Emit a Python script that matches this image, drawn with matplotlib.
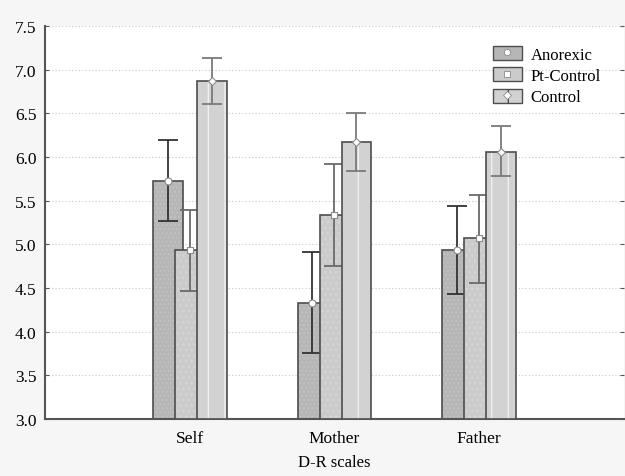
import matplotlib
matplotlib.use("Agg")
import matplotlib.pyplot as plt
import numpy as np
from matplotlib.patches import Patch
from matplotlib.lines import Line2D

categories = ["Self", "Mother", "Father"]
groups = ["Anorexic", "Pt-Control", "Control"]
anorexic = [5.73, 4.33, 4.93]
anorexic_lo = [5.27, 3.75, 4.43]
anorexic_hi = [6.19, 4.91, 5.44]
ptcontrol = [4.93, 5.33, 5.07]
ptcontrol_lo = [4.47, 4.75, 4.56]
ptcontrol_hi = [5.39, 5.92, 5.57]
control = [6.87, 6.17, 6.06]
control_lo = [6.61, 5.84, 5.78]
control_hi = [7.13, 6.50, 6.35]
yticks = [3.0, 3.5, 4.0, 4.5, 5.0, 5.5, 6.0, 6.5, 7.0, 7.5]

plt.rcParams['font.family'] = ['Liberation Serif', 'DejaVu Serif']
plt.rcParams['hatch.color'] = "#f0f0f0"

fig = plt.figure(figsize=(6.25, 4.77), dpi=100, facecolor="#f6f6f6")
ax = fig.add_axes([0.072, 0.1195, 0.926, 0.824])
ax.set_facecolor("white")

x = np.arange(1, len(categories) + 1)
width = 0.205
offset = 0.152

fills = ["#b6b6b6", "#cbcbcb", "#d2d2d2"]
hatches = ["....", "...", "|"]
hatch_cols = ["#c2c2c2", "#d6d6d6", "#f0f0f0"]
ecols = ["#333333", "#6a6a6a", "#7a7a7a"]
markers = ["o", "s", "D"]
msizes = [5, 5, 4.5]

series = [(anorexic, anorexic_lo, anorexic_hi),
          (ptcontrol, ptcontrol_lo, ptcontrol_hi),
          (control, control_lo, control_hi)]

for i, (vals, lo, hi) in enumerate(series):
    xs = x + (i - 1) * offset
    vals = np.array(vals)
    bottom = 3.0
    heights = vals - bottom
    ax.bar(xs, heights, width, bottom=bottom, color=fills[i], edgecolor=hatch_cols[i],
           hatch=hatches[i], linewidth=0, zorder=2 + i * 3)
    ax.bar(xs, heights, width, bottom=bottom, facecolor="none", edgecolor="#4d4d4d",
           linewidth=1.2, zorder=2.1 + i * 3)
    yerr = [vals - np.array(lo), np.array(hi) - vals]
    ax.errorbar(xs, vals, yerr=yerr, fmt="none", ecolor=ecols[i], elinewidth=1.3,
                capsize=7.5, capthick=1.3, zorder=3 + i * 3)
    ax.plot(xs, vals, linestyle="none", marker=markers[i], markersize=msizes[i],
            markerfacecolor="white", markeredgecolor="#8a8a8a", markeredgewidth=0.8,
            zorder=3.5 + i * 3)

ax.set_xlim(0, 4)
ax.set_ylim(3.0, 7.5)
ax.set_yticks(yticks)
ax.set_yticklabels([f"{v:.1f}" for v in yticks], fontsize=12.5)
ax.set_xticks(x)
ax.set_xticklabels(categories, fontsize=12.5)
ax.set_xlabel("D-R scales", fontsize=12, labelpad=6)
ax.tick_params(axis="x", direction="in", length=3, color="#333333", pad=8)
ax.tick_params(axis="y", direction="in", length=3, color="#555555", pad=6, right=True)
ax.yaxis.grid(True, linestyle=(0, (1, 2)), color="#c8c8c8", linewidth=0.8, zorder=0)
ax.set_axisbelow(True)

for s in ["top", "right"]:
    ax.spines[s].set_visible(False)
for s in ["left", "bottom"]:
    ax.spines[s].set_color("#555555")
    ax.spines[s].set_linewidth(1.5)

handles = []
for i in range(3):
    p = Patch(facecolor=fills[i], edgecolor="#4d4d4d", linewidth=1.0,
              hatch=None if i < 2 else "|")
    m = Line2D([], [], linestyle="none", marker=markers[i], markersize=msizes[i] - 0.5,
               markerfacecolor="white", markeredgecolor="#8a8a8a", markeredgewidth=0.6)
    handles.append((p, m))
leg = ax.legend(handles, groups, loc="upper left", bbox_to_anchor=(0.76, 0.97),
                frameon=False, fontsize=12, handlelength=1.7, handleheight=0.9,
                labelspacing=0.28, handletextpad=0.55, borderpad=0)
fig.savefig("out.png", dpi=100, facecolor=fig.get_facecolor())
